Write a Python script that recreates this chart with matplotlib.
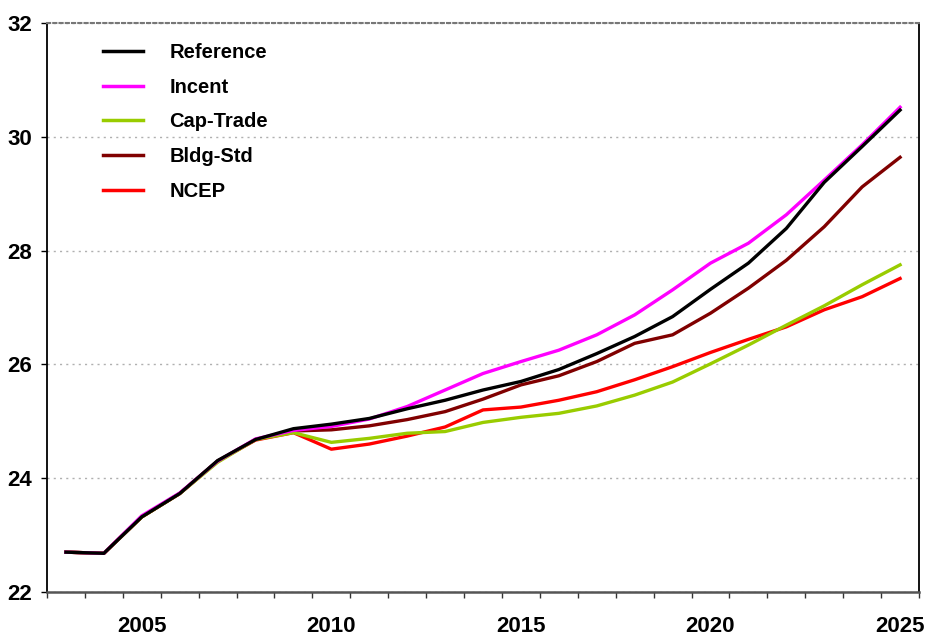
import numpy as np
import matplotlib
matplotlib.use("Agg")
import matplotlib.pyplot as plt
from matplotlib.ticker import FixedLocator

plt.rcParams['font.family'] = ['Liberation Sans', 'DejaVu Sans']
plt.rcParams['font.weight'] = 'bold'

years = list(range(2003, 2026))

reference = [22.70, 22.68, 23.32, 23.73, 24.31, 24.68, 24.87, 24.95, 25.05, 25.22, 25.37,
             25.55, 25.70, 25.91, 26.19, 26.49, 26.84, 27.32, 27.78, 28.39, 29.20, 29.83, 30.47]
incent = [22.70, 22.68, 23.34, 23.74, 24.30, 24.69, 24.84, 24.91, 25.04, 25.26, 25.55,
          25.84, 26.05, 26.25, 26.52, 26.87, 27.31, 27.78, 28.13, 28.63, 29.24, 29.86, 30.52]
cap_trade = [22.70, 22.68, 23.32, 23.73, 24.28, 24.68, 24.80, 24.63, 24.70, 24.79, 24.82,
             24.98, 25.07, 25.14, 25.27, 25.46, 25.69, 26.01, 26.34, 26.69, 27.03, 27.40, 27.75]
bldg_std = [22.70, 22.68, 23.32, 23.73, 24.30, 24.68, 24.83, 24.85, 24.92, 25.03, 25.17,
            25.39, 25.64, 25.80, 26.05, 26.37, 26.52, 26.90, 27.34, 27.83, 28.42, 29.12, 29.64]
ncep = [22.70, 22.68, 23.32, 23.73, 24.30, 24.67, 24.80, 24.51, 24.60, 24.74, 24.90,
        25.20, 25.25, 25.37, 25.52, 25.73, 25.96, 26.21, 26.44, 26.66, 26.96, 27.19, 27.51]

labels = ["Reference", "Incent", "Cap-Trade", "Bldg-Std", "NCEP"]
colors = ["#000000", "#FF00FF", "#99CC00", "#800000", "#FF0000"]
series = [reference, incent, cap_trade, bldg_std, ncep]

fig = plt.figure(figsize=(9.27, 6.36), dpi=100)
ax = fig.add_axes([0.0507, 0.0692, 0.9407, 0.8946])

# draw reference last so it sits on top
handles = {}
for lab, col, vals in reversed(list(zip(labels, colors, series))):
    ln, = ax.plot(years, vals, color=col, linewidth=2.4, solid_joinstyle='round')
    handles[lab] = ln

ax.set_xlim(2002.5, 2025.5)
ax.set_ylim(22, 32)

ax.set_yticks([22, 24, 26, 28, 30, 32])
ax.set_xticks([2005, 2010, 2015, 2020, 2025])
ax.xaxis.set_minor_locator(FixedLocator(np.arange(2002.5, 2026, 1)))
ax.tick_params(axis='x', which='major', length=0, pad=17, labelsize=16)
ax.tick_params(axis='x', which='minor', length=4.5, width=1, direction='out', color='#333333')
ax.tick_params(axis='y', length=4, width=1, direction='out', pad=7, labelsize=16)

ax.grid(axis='y', linestyle=(0, (1.5, 3)), color='#b0b0b0', linewidth=1)
ax.spines['top'].set_linestyle((0, (1.5, 1.5)))
ax.spines['top'].set_color('#777777')
ax.spines['top'].set_linewidth(1.5)
ax.spines['right'].set_linewidth(1.3)
ax.spines['left'].set_linewidth(1.3)
ax.spines['bottom'].set_color('#555555')
ax.spines['bottom'].set_linewidth(1.8)

leg = ax.legend([handles[l] for l in labels], labels, loc='upper left',
                bbox_to_anchor=(0.064, 0.965), frameon=False, handlelength=2.0,
                handletextpad=1.3, labelspacing=0.78, borderpad=0, borderaxespad=0,
                prop={'size': 14.5, 'weight': 'bold'})
for ln in leg.get_lines():
    ln.set_linewidth(2.5)

fig.savefig("out.png", dpi=100)
